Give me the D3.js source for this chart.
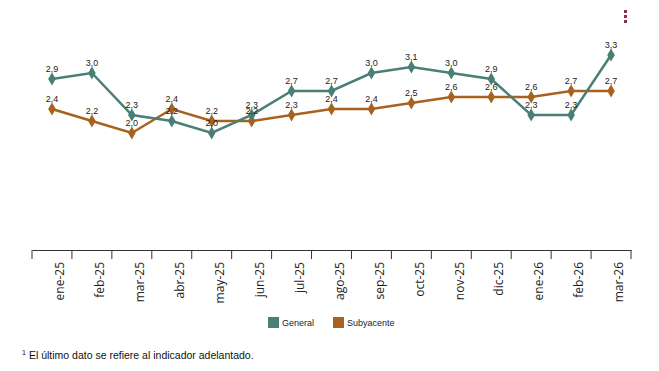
<!DOCTYPE html>
<html>
<head>
<meta charset="utf-8">
<script src="https://cdn.jsdelivr.net/npm/d3@7"></script>
<style>
  body { margin: 0; background: #fff; }
  svg { display: block; }
</style>
</head>
<body>
<svg id="chart" width="659" height="371"></svg>
<script>
var months = ["ene-25", "feb-25", "mar-25", "abr-25", "may-25", "jun-25", "jul-25", "ago-25",
  "sep-25", "oct-25", "nov-25", "dic-25", "ene-26", "feb-26", "mar-26"];
var general = [2.9, 3.0, 2.3, 2.2, 2.0, 2.3, 2.7, 2.7, 3.0, 3.1, 3.0, 2.9, 2.3, 2.3, 3.3];
var subyacente = [2.4, 2.2, 2.0, 2.4, 2.2, 2.2, 2.3, 2.4, 2.4, 2.5, 2.6, 2.6, 2.6, 2.7, 2.7];
var seriesNames = ["General", "Subyacente"];
var colors = ["#4a7f75", "#a9621d"];

var svg = d3.select("#chart");
var margin = {top: 13, right: 28, bottom: 118, left: 32},
  width = 659,
  height = 371;

var x = d3.scaleBand()
  .domain(months)
  .range([margin.left, width - margin.right]);

var y = d3.scaleLinear()
  .domain([0, 4])
  .range([253, margin.top]);

var fmt = function(v) { return d3.format(".1f")(v).replace(".", ","); };

// axis: labels from band scale, ticks on band edges
var axisY = 250;
var ax = svg.append("g")
  .attr("transform", "translate(0," + axisY + ")")
  .call(d3.axisBottom(x).tickSize(0).tickSizeOuter(0));
ax.select(".domain").attr("stroke", "#333").attr("stroke-width", 1);
ax.selectAll("text")
  .attr("font-family", "Open Sans, sans-serif")
  .attr("font-size", "12px")
  .attr("fill", "#222")
  .attr("text-anchor", "end")
  .attr("transform", "translate(8,12) rotate(-90)")
  .attr("x", 0)
  .attr("y", 0)
  .attr("dy", "0.35em");

var edges = months.map(function(d) { return x(d); }).concat([x.range()[1]]);
ax.selectAll(".edge").data(edges).enter().append("line")
  .attr("class", "edge")
  .attr("x1", d => d).attr("x2", d => d)
  .attr("y1", 0).attr("y2", 9)
  .attr("stroke", "#333");

var series = [general, subyacente];
var line = d3.line()
  .x((d, i) => x(months[i]) + x.bandwidth() / 2)
  .y(d => y(d));
var diamond = d3.symbol().type(d3.symbolDiamond).size(50);

// draw subyacente first, general on top
[1, 0].forEach(function(s) {
  var g = svg.append("g");
  g.append("path")
    .datum(series[s])
    .attr("fill", "none")
    .attr("stroke", colors[s])
    .attr("stroke-width", 2.5)
    .attr("d", line);
  g.selectAll("path.pt").data(series[s]).enter().append("path")
    .attr("class", "pt")
    .attr("d", diamond)
    .attr("fill", colors[s])
    .attr("transform", (d, i) => "translate(" + (x(months[i]) + x.bandwidth() / 2) + "," + y(d) + ")");
});

[1, 0].forEach(function(s) {
  svg.append("g").selectAll("text").data(series[s]).enter().append("text")
    .attr("x", (d, i) => x(months[i]) + x.bandwidth() / 2)
    .attr("y", d => y(d) - 7)
    .attr("text-anchor", "middle")
    .attr("font-family", "Liberation Sans, Arial, sans-serif")
    .attr("font-size", "9px")
    .attr("fill", "#222")
    .text(fmt);
});

// legend
var legend = svg.append("g").attr("transform", "translate(268,317)");
var lx = [0, 65];
seriesNames.forEach(function(n, i) {
  legend.append("rect")
    .attr("x", lx[i]).attr("y", 0)
    .attr("width", 11).attr("height", 11)
    .attr("fill", colors[i]);
  legend.append("text")
    .attr("x", lx[i] + 14).attr("y", 9)
    .attr("font-family", "Liberation Sans, Arial, sans-serif")
    .attr("font-size", "9px")
    .attr("fill", "#222")
    .text(n);
});

// footnote
var note = svg.append("text")
  .attr("x", 22).attr("y", 359)
  .attr("font-family", "Liberation Sans, Arial, sans-serif")
  .attr("font-size", "10.5px")
  .attr("fill", "#111");
note.append("tspan").attr("font-size", "7px").attr("dy", "-4").text("1");
note.append("tspan").attr("dy", "4").attr("dx", "3").text("El último dato se refiere al indicador adelantado.");

// menu dots
svg.append("g").selectAll("rect").data([0, 1, 2]).enter().append("rect")
  .attr("x", 624).attr("y", d => 10 + d * 5)
  .attr("width", 3).attr("height", 3)
  .attr("fill", "#8c2c52");
</script>
</body>
</html>
